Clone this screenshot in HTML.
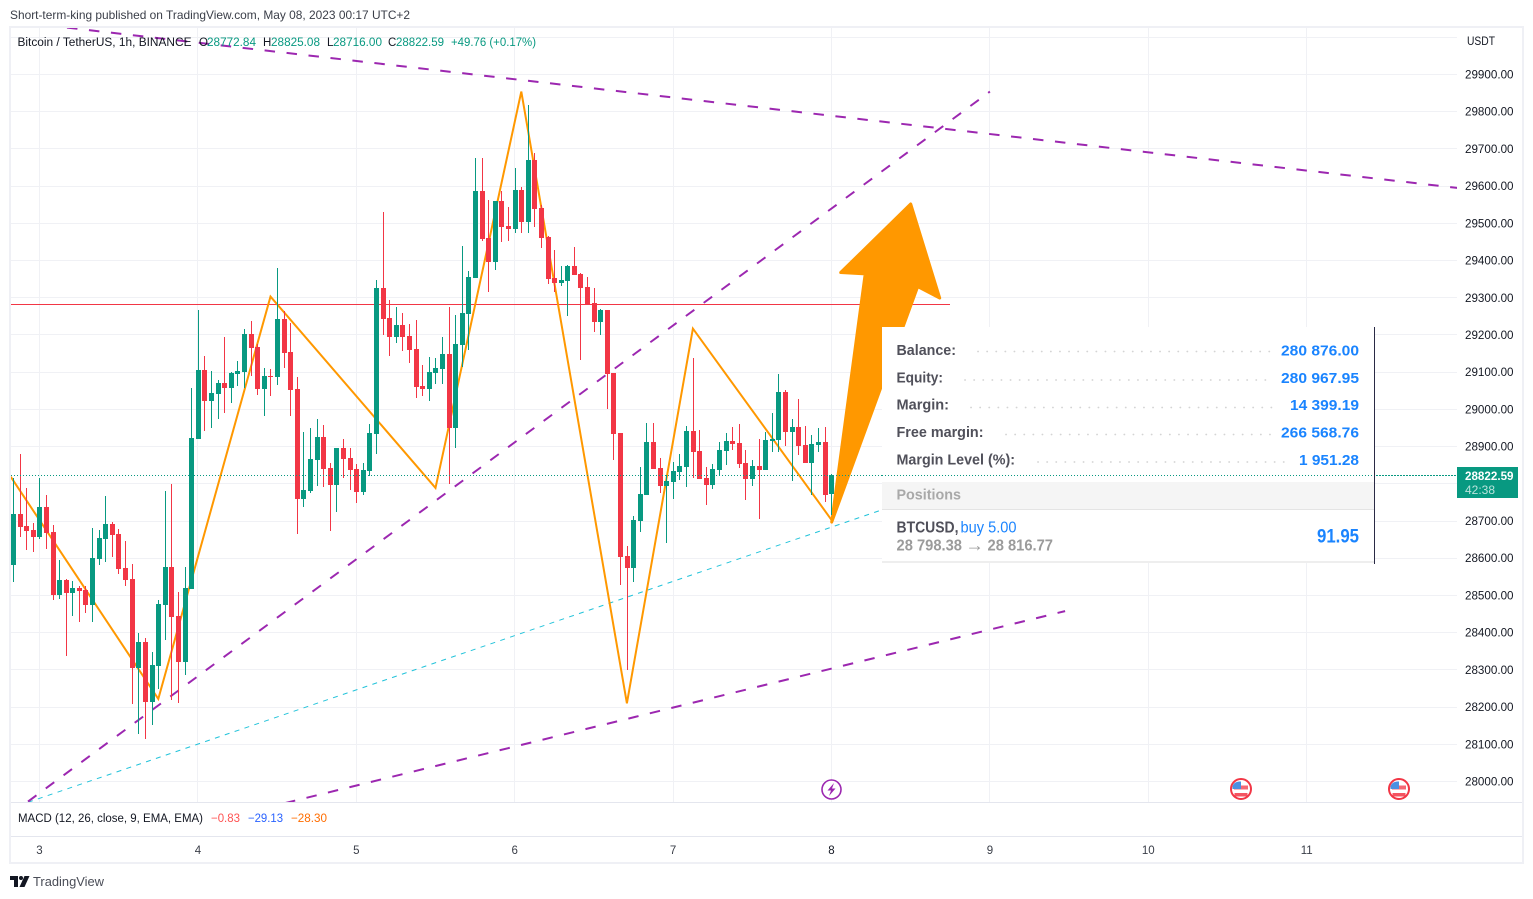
<!DOCTYPE html>
<html lang="en">
<head>
<meta charset="utf-8">
<title>Bitcoin / TetherUS chart</title>
<style>
html,body{margin:0;padding:0;background:#fff;width:1533px;height:899px;overflow:hidden}
svg{display:block}
text{font-family:"Liberation Sans",sans-serif}
</style>
</head>
<body>
<svg id="chart" xmlns="http://www.w3.org/2000/svg" width="1533" height="899" viewBox="0 0 1533 899">
  <defs><clipPath id="pane-clip"><rect x="11" y="28" width="1446" height="774"/></clipPath></defs>
  <rect x="0" y="0" width="1533" height="899" fill="#ffffff"/>
  <text x="10" y="19" font-size="12" fill="#3a3e48" textLength="400" lengthAdjust="spacingAndGlyphs">Short-term-king published on TradingView.com, May 08, 2023 00:17 UTC+2</text>
  <g id="grid"></g>
  <g id="drawings" clip-path="url(#pane-clip)"></g>
  <g id="candles"></g>
  <g id="price-line"></g>

  <g>
    <rect x="882" y="327" width="492" height="236" fill="#ffffff"/>
    <line x1="882" y1="475.5" x2="1457" y2="475.5" stroke="#089981" stroke-width="1" stroke-dasharray="1 2"/>
    <line x1="1374.5" y1="327" x2="1374.5" y2="564" stroke="#2a2a45" stroke-width="1"/>
    <g font-weight="700" font-size="14.5" fill="#50505a">
      <text x="896.5" y="355" textLength="59.5" lengthAdjust="spacingAndGlyphs">Balance:</text>
      <text x="896.5" y="382.5" textLength="46.5" lengthAdjust="spacingAndGlyphs">Equity:</text>
      <text x="896.5" y="409.5" textLength="52.5" lengthAdjust="spacingAndGlyphs">Margin:</text>
      <text x="896.5" y="437" textLength="87" lengthAdjust="spacingAndGlyphs">Free margin:</text>
      <text x="896.5" y="464.5" textLength="118.5" lengthAdjust="spacingAndGlyphs">Margin Level (%):</text>
    </g>
    <g stroke="#d4d4d4" stroke-width="1.8" stroke-linecap="round" stroke-dasharray="0.1 9">
      <line x1="978" y1="351.5" x2="1270" y2="351.5"/>
      <line x1="965" y1="380" x2="1266" y2="380"/>
      <line x1="971" y1="407.5" x2="1280" y2="407.5"/>
      <line x1="1006" y1="434.5" x2="1270" y2="434.5"/>
      <line x1="1038" y1="462" x2="1285" y2="462"/>
    </g>
    <g font-weight="700" font-size="15" fill="#1a84ff" text-anchor="end">
      <text x="1359" y="355.5" textLength="78" lengthAdjust="spacingAndGlyphs">280 876.00</text>
      <text x="1359" y="383" textLength="78" lengthAdjust="spacingAndGlyphs">280 967.95</text>
      <text x="1359" y="410" textLength="69" lengthAdjust="spacingAndGlyphs">14 399.19</text>
      <text x="1359" y="437.5" textLength="78" lengthAdjust="spacingAndGlyphs">266 568.76</text>
      <text x="1359" y="465" textLength="60" lengthAdjust="spacingAndGlyphs">1 951.28</text>
    </g>
    <rect x="882" y="482" width="492" height="27" fill="#f5f5f5"/>
    <line x1="882" y1="509.5" x2="1374" y2="509.5" stroke="#e4e4e4" stroke-width="1"/>
    <text x="896.5" y="499.5" font-size="14.5" font-weight="700" fill="#a9a9a9" textLength="64.5" lengthAdjust="spacingAndGlyphs">Positions</text>
    <text x="896.5" y="532.5" font-size="16" font-weight="700" fill="#50505a" textLength="62" lengthAdjust="spacingAndGlyphs">BTCUSD,</text>
    <text x="960.5" y="532.5" font-size="16" fill="#1a84ff" textLength="56" lengthAdjust="spacingAndGlyphs">buy 5.00</text>
    <text x="896.5" y="550.5" font-size="16" font-weight="700" fill="#9b9b9b" textLength="65.5" lengthAdjust="spacingAndGlyphs">28 798.38</text>
    <text x="965.5" y="551" font-size="18" fill="#9b9b9b" textLength="18.5" lengthAdjust="spacingAndGlyphs">→</text>
    <text x="987.5" y="550.5" font-size="16" font-weight="700" fill="#9b9b9b" textLength="65.5" lengthAdjust="spacingAndGlyphs">28 816.77</text>
    <text x="1359" y="542.5" font-size="19" font-weight="700" fill="#1a84ff" text-anchor="end" textLength="42" lengthAdjust="spacingAndGlyphs">91.95</text>
    <line x1="882" y1="562" x2="1374" y2="562" stroke="#e8e8e8" stroke-width="1.5"/>
  </g>

  <g font-size="11.5">
    <text x="17.5" y="46" fill="#131722" textLength="174" lengthAdjust="spacingAndGlyphs">Bitcoin / TetherUS, 1h, BINANCE</text>
    <text x="199" y="46" fill="#131722">O</text>
    <text x="207" y="46" fill="#089981" textLength="49" lengthAdjust="spacingAndGlyphs">28772.84</text>
    <text x="263" y="46" fill="#131722">H</text>
    <text x="271" y="46" fill="#089981" textLength="49" lengthAdjust="spacingAndGlyphs">28825.08</text>
    <text x="327" y="46" fill="#131722">L</text>
    <text x="333" y="46" fill="#089981" textLength="49" lengthAdjust="spacingAndGlyphs">28716.00</text>
    <text x="388" y="46" fill="#131722">C</text>
    <text x="396" y="46" fill="#089981" textLength="48" lengthAdjust="spacingAndGlyphs">28822.59</text>
    <text x="451" y="46" fill="#089981" textLength="85" lengthAdjust="spacingAndGlyphs">+49.76 (+0.17%)</text>
  </g>

  <g id="price-axis"></g>
  <text x="1467" y="45" font-size="11.5" fill="#131722" textLength="28" lengthAdjust="spacingAndGlyphs">USDT</text>
  <g>
    <rect x="1457" y="467" width="61" height="31" fill="#089981"/>
    <text x="1465" y="480" font-size="11.5" font-weight="700" fill="#ffffff" textLength="48.5" lengthAdjust="spacingAndGlyphs">28822.59</text>
    <text x="1465" y="494" font-size="11.5" fill="#ffffff" fill-opacity="0.72" textLength="30" lengthAdjust="spacingAndGlyphs">42:38</text>
  </g>

  <g>
    <g>
      <circle cx="831.5" cy="789.5" r="9.5" fill="#ffffff" stroke="#9c27b0" stroke-width="1.6"/>
      <polygon points="834,783 827.5,790.5 831,790.5 829,796 835.5,788.5 832,788.5" fill="#9c27b0"/>
    </g>
    <g>
      <circle cx="1241" cy="789" r="10" fill="#ffffff" stroke="#f23645" stroke-width="2"/>
      <rect x="1234" y="785.5" width="14" height="4" fill="#f23645" fill-opacity=".75"/>
      <rect x="1234.5" y="793" width="13" height="3.5" fill="#f23645" fill-opacity=".85"/>
      <path d="M1232.5 789 V786 Q1234 782 1239 781.5 H1241 V789 Z" fill="#4a90e2"/>
    </g>
    <g>
      <circle cx="1399" cy="789" r="10" fill="#ffffff" stroke="#f23645" stroke-width="2"/>
      <rect x="1392" y="785.5" width="14" height="4" fill="#f23645" fill-opacity=".75"/>
      <rect x="1392.5" y="793" width="13" height="3.5" fill="#f23645" fill-opacity=".85"/>
      <path d="M1390.5 789 V786 Q1392 782 1397 781.5 H1399 V789 Z" fill="#4a90e2"/>
    </g>
  </g>

  <g fill="none">
    <rect x="10" y="27" width="1513" height="836" stroke="#eff0f5" stroke-width="2"/>
    <line x1="11" y1="802.5" x2="1522" y2="802.5" stroke="#e4e6ee"/>
    <line x1="11" y1="836.5" x2="1522" y2="836.5" stroke="#e4e6ee"/>
  </g>

  <g font-size="11.5">
    <text x="18" y="822" fill="#131722" textLength="185" lengthAdjust="spacingAndGlyphs">MACD (12, 26, close, 9, EMA, EMA)</text>
    <text x="211" y="822" fill="#ff5252" textLength="29" lengthAdjust="spacingAndGlyphs">−0.83</text>
    <text x="248" y="822" fill="#2962ff" textLength="35" lengthAdjust="spacingAndGlyphs">−29.13</text>
    <text x="291" y="822" fill="#ff6d00" textLength="36" lengthAdjust="spacingAndGlyphs">−28.30</text>
  </g>
  <g id="time-axis"></g>

  <g>
    <path d="M10 876 H18 V887 H14 V880 H10 Z M24.5 876 H29.5 L24.5 887 H19.5 Z" fill="#131722"/>
    <circle cx="21" cy="878" r="2" fill="#131722"/>
    <text x="33" y="886" font-size="13" fill="#4a4d57" textLength="71" lengthAdjust="spacingAndGlyphs">TradingView</text>
  </g>
</svg>
<script>
// Candle data (hourly bars, price in USDT)
const candleOpen = [28582,28719,28687,28676,28657,28738,28670,28501,28541,28506,28520,28515,28474,28598,28652,28692,28665,28574,28544,28305,28375,28214,28310,28474,28576,28445,28321,28517,28920,29106,29022,29041,29071,29057,29095,29100,29203,29168,29055,29090,29087,29243,29154,29055,28759,28781,28864,28926,28842,28797,28896,28869,28840,28778,28834,28934,29326,29246,29195,29227,29197,29162,29063,29055,29098,29109,29149,28950,29173,29256,29353,29587,29461,29396,29560,29493,29485,29590,29504,29670,29541,29463,29353,29340,29345,29385,29364,29329,29286,29235,29267,29098,28937,28606,28574,28700,28770,28912,28843,28794,28805,28832,28845,28942,28888,28816,28797,28837,28888,28915,28910,28856,28813,28848,28837,28915,28918,29047,28939,28953,28904,28856,28904,28912,28772.84];
const candleHigh = [28815,28880,28788,28695,28815,28770,28689,28595,28544,28539,28525,28525,28681,28676,28767,28697,28679,28646,28584,28399,28386,28348,28488,28781,28800,28509,28576,29057,29267,29143,29103,29079,29194,29100,29130,29216,29237,29177,29111,29108,29380,29264,29232,29087,28939,28950,28974,28958,28856,28896,28920,28896,28853,28856,28961,29348,29530,29294,29275,29259,29229,29240,29119,29141,29138,29195,29275,29254,29439,29372,29676,29676,29563,29560,29587,29544,29649,29598,29818,29689,29549,29466,29428,29385,29388,29436,29367,29356,29326,29270,29267,29098,28937,28633,28714,28845,28963,28963,28869,28824,28859,28880,28955,29138,28945,28845,28853,28912,28937,28953,28961,28891,28864,28920,28939,28990,29095,29052,28974,29028,28955,28931,28950,28953,28825.08];
const candleLow = [28537,28658,28622,28617,28652,28625,28488,28490,28337,28445,28429,28453,28429,28582,28590,28603,28558,28525,28208,28128,28114,28152,28249,28380,28219,28211,28286,28517,28920,28942,28950,28974,28990,29017,29063,29057,29090,29039,28982,29036,29065,29111,28982,28665,28738,28775,28794,28791,28673,28724,28816,28783,28748,28770,28821,28880,29200,29143,29178,29157,29125,29031,29036,29023,29068,29068,28799,28896,29114,29160,29353,29453,29315,29375,29450,29453,29474,29474,29474,29490,29434,29337,29315,29332,29251,29361,29133,29281,29208,29200,29001,28864,28528,28300,28536,28671,28770,28840,28775,28641,28759,28810,28791,28816,28813,28743,28786,28824,28851,28891,28843,28757,28794,28705,28837,28885,28885,28902,28808,28877,28856,28770,28885,28751,28716];
const candleClose = [28719,28684,28673,28657,28738,28668,28501,28541,28506,28520,28512,28474,28601,28654,28692,28662,28571,28541,28305,28375,28214,28313,28477,28576,28442,28321,28520,28923,29106,29022,29044,29071,29057,29098,29103,29203,29165,29055,29090,29087,29243,29151,29052,28759,28783,28867,28926,28840,28797,28896,28867,28837,28778,28837,28937,29326,29243,29195,29227,29195,29160,29060,29055,29100,29111,29149,28950,29176,29259,29356,29587,29458,29396,29560,29490,29485,29590,29504,29670,29539,29461,29350,29340,29348,29385,29361,29326,29283,29235,29267,29095,28934,28603,28574,28703,28773,28912,28840,28794,28808,28834,28848,28942,28885,28813,28797,28840,28891,28915,28907,28853,28813,28848,28837,28918,28920,29047,28939,28953,28902,28856,28907,28912,28770,28822.59];
const lastPrice = 28822.59;

// Axis ticks
const priceTicks = [30000,29900,29800,29700,29600,29500,29400,29300,29200,29100,29000,28900,28800,28700,28600,28500,28400,28300,28200,28100,28000];
const priceTickLabels = ["","29900.00","29800.00","29700.00","29600.00","29500.00","29400.00","29300.00","29200.00","29100.00","29000.00","28900.00","","28700.00","28600.00","28500.00","28400.00","28300.00","28200.00","28100.00","28000.00"];
const dayTickBars = [4,28,52,76,100,124,148,172,196];
const dayTickLabels = ["3","4","5","6","7","8","9","10","11"];

// Drawings, in bar index / price units
const zigzagBars = [-0.36,22,39,64,77,93,103,124];
const zigzagPrices = [28819,28222,29303,28789,29854,28210,29217,28703];
const channelTopBars = [8.17,218.9];
const channelTopPrices = [30026,29595];
const channelRiseBars = [2.26,148];
const channelRisePrices = [27946,29854];
const channelLowBars = [41.2,159.4];
const channelLowPrices = [27942,28458];
const trendCyanBars = [2.26,131.3];
const trendCyanPrices = [27944,28728];
const resistanceBars = [-0.4,141.95];
const resistancePrices = [29282,29282];
const arrowBars = [124.03,129.1,125.4,136,140.4,137.06];
const arrowPrices = [28697,29364,29368,29552,29299,29330];

const UP = '#089981', DOWN = '#f23645';
const NS = 'http://www.w3.org/2000/svg';
function xScale(bar){ return 39.5 + (bar - 4) * 6.6; }
function yScale(price){ return 74.5 + (29900 - price) * 0.3721; }
function make(tag, attrs, parent){
  const el = document.createElementNS(NS, tag);
  for (const k in attrs) el.setAttribute(k, attrs[k]);
  parent.appendChild(el);
  return el;
}
const gridG = document.getElementById('grid');
const drawG = document.getElementById('drawings');
const candleG = document.getElementById('candles');
const axisG = document.getElementById('price-axis');
const timeG = document.getElementById('time-axis');
const priceLineG = document.getElementById('price-line');

// grid and axes
priceTicks.forEach(function(p, i){
  const y = Math.round(yScale(p) - 0.5) + 0.5;
  const ln = make('line', {x1:11, x2:1457, y1:y, y2:y, stroke:'#f0f1f5', 'stroke-width':1}, gridG);
  
  
  if (priceTickLabels[i]) {
    const t = make('text', {x:1465, y:yScale(p) + 4, 'font-size':11.5, fill:'#131722', textLength:48.5, lengthAdjust:'spacingAndGlyphs'}, axisG);
    
    
    t.textContent = priceTickLabels[i];
  }
});
dayTickBars.forEach(function(b, i){
  const x = Math.round(xScale(b) - 0.5) + 0.5;
  const ln = make('line', {x1:x, x2:x, y1:28, y2:802, stroke:'#f0f1f5', 'stroke-width':1}, gridG);
  
  
  const t = make('text', {x:xScale(b), y:854, 'font-size':11.5, fill: dayTickLabels[i] === '8' ? '#131722' : '#3a3e48', 'text-anchor':'middle'}, timeG);
  
  
  t.textContent = dayTickLabels[i];
});

// drawings
function pointsOf(bars, prices){
  return bars.map(function(b, i){ return xScale(b).toFixed(1) + ',' + yScale(prices[i]).toFixed(1); }).join(' ');
}
const cyan = make('polyline', {points:pointsOf(trendCyanBars, trendCyanPrices), fill:'none', stroke:'#22c3da', 'stroke-width':1, 'stroke-dasharray':'5 5.4'}, drawG);


const resistance = make('polyline', {points:pointsOf(resistanceBars, resistancePrices), fill:'none', stroke:'#f23645', 'stroke-width':1}, drawG);


const chanTop = make('polyline', {points:pointsOf(channelTopBars, channelTopPrices), fill:'none', stroke:'#9c27b0', 'stroke-width':2, 'stroke-dasharray':'10.5 11.6'}, drawG);


const chanRise = make('polyline', {points:pointsOf(channelRiseBars, channelRisePrices), fill:'none', stroke:'#9c27b0', 'stroke-width':2, 'stroke-dasharray':'10.5 11.6'}, drawG);


const chanLow = make('polyline', {points:pointsOf(channelLowBars, channelLowPrices), fill:'none', stroke:'#9c27b0', 'stroke-width':2, 'stroke-dasharray':'10.5 11.6'}, drawG);


const zigzag = make('polyline', {points:pointsOf(zigzagBars, zigzagPrices), fill:'none', stroke:'#ff9800', 'stroke-width':2, 'stroke-linejoin':'miter'}, drawG);


const arrow = make('polygon', {points:pointsOf(arrowBars, arrowPrices), fill:'#ff9800', stroke:'#ff9800', 'stroke-width':3, 'stroke-linejoin':'round'}, drawG);



// candles
candleOpen.forEach(function(o, i){
  const h = candleHigh[i], l = candleLow[i], c = candleClose[i];
  const color = c >= o ? UP : DOWN;
  const left = Math.round(xScale(i) - 2.2);
  const wickTop = Math.round(yScale(h));
  const wickBot = Math.round(yScale(l));
  const bodyTop = Math.round(yScale(Math.max(o, c)));
  const bodyBot = Math.round(yScale(Math.min(o, c)));
  const wick = make('rect', {x:left + 2, y:wickTop, width:1, height:Math.max(1, wickBot - wickTop), fill:color}, candleG);
  
  
  const body = make('rect', {x:left, y:bodyTop, width:5, height:Math.max(1, bodyBot - bodyTop), fill:color}, candleG);
  
  
});

// last price line
const lastY = Math.round(yScale(lastPrice) - 0.5) + 0.5;
const lastLine = make('line', {x1:11, x2:1457, y1:lastY, y2:lastY, stroke:UP, 'stroke-width':1, 'stroke-dasharray':'1 2'}, priceLineG);


</script>
</body>
</html>
